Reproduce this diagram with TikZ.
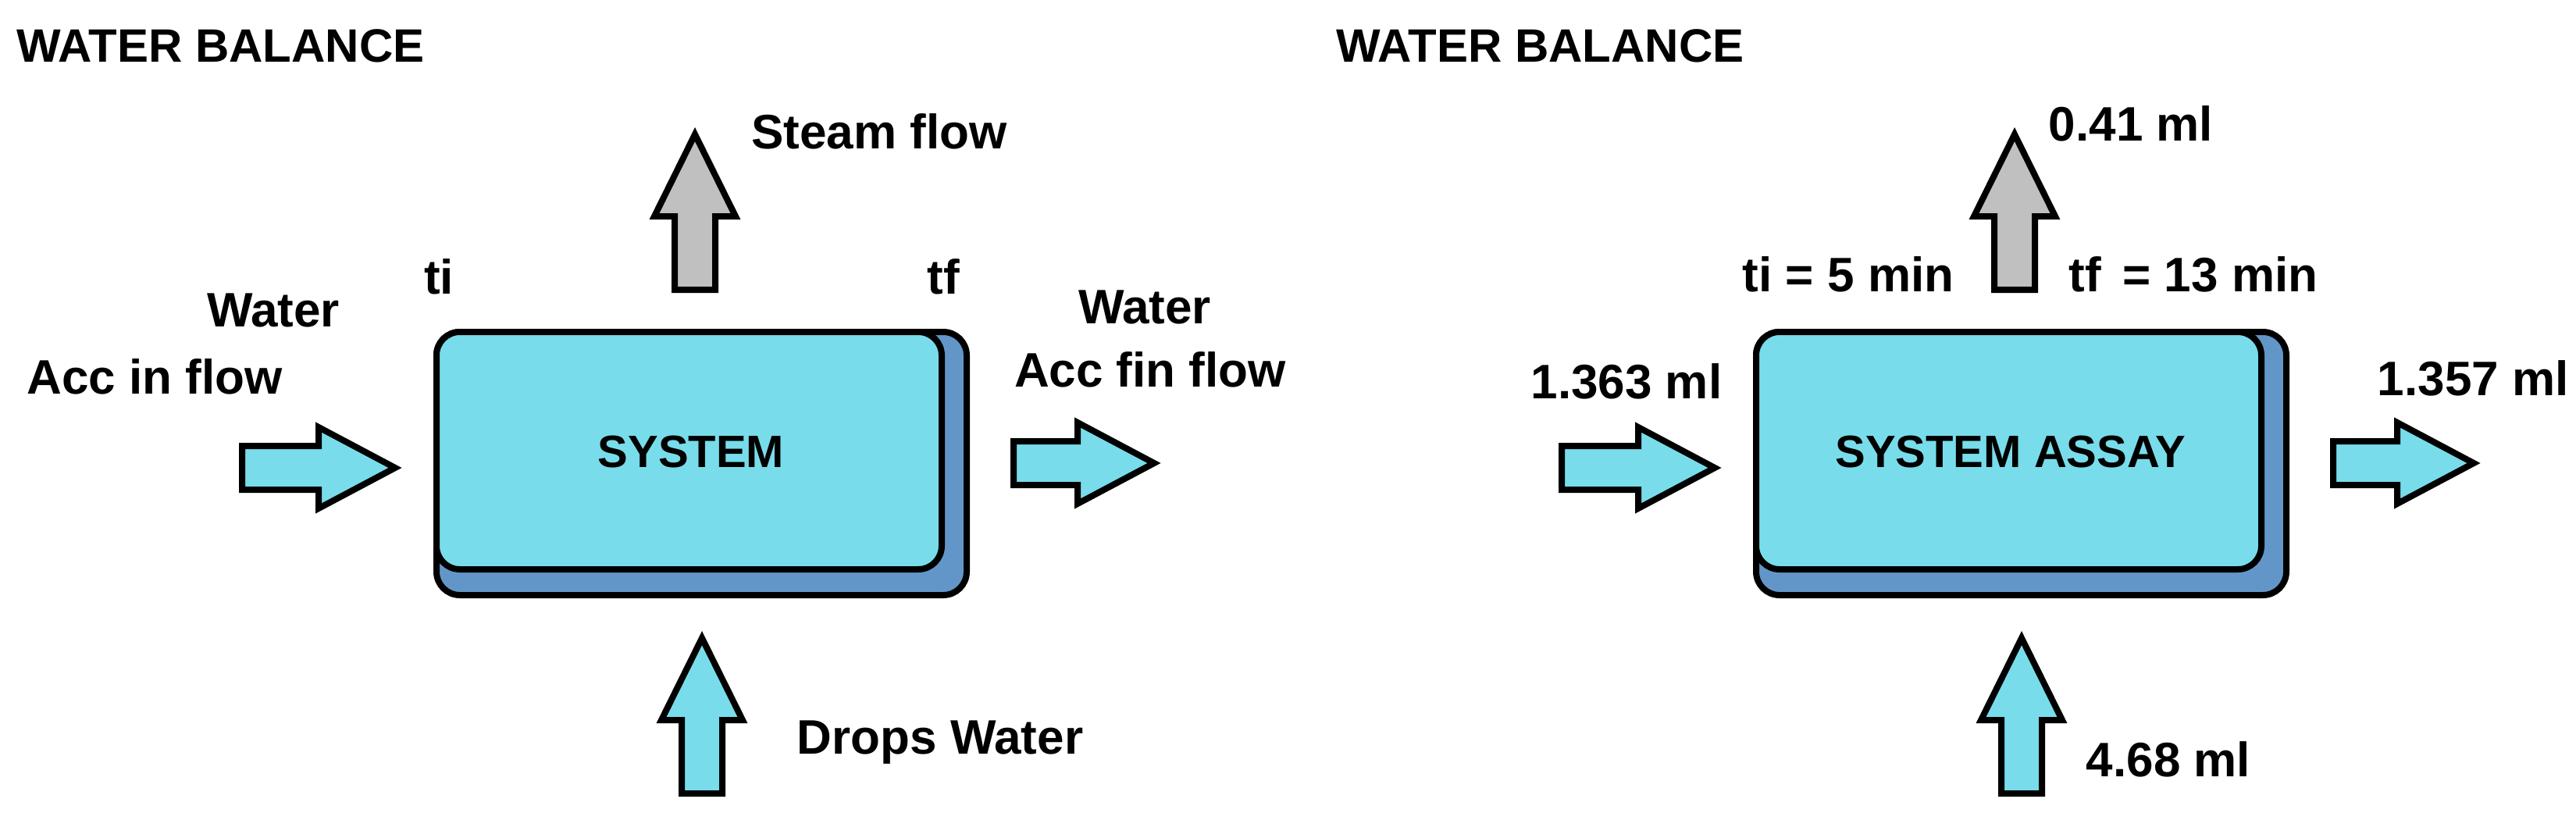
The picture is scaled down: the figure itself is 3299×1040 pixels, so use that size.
\documentclass[tikz,border=0pt]{standalone}
\usepackage{fontspec}
\setmainfont{Liberation Sans}
\definecolor{cyanb}{HTML}{78DCEB}
\definecolor{darkb}{HTML}{6396C8}
\definecolor{grayb}{HTML}{C0C0C0}
\newcommand\rarr[4]{\draw[flow,fill=#4] (#1,#2-28) -- (#1+#3-98,#2-28) -- (#1+#3-98,#2-52) -- (#1+#3,#2) -- (#1+#3-98,#2+52) -- (#1+#3-98,#2+28) -- (#1,#2+28) -- cycle;}
\newcommand\uarr[4]{\draw[flow,fill=#4] (#1-26,#2) -- (#1-26,#2-#3+105) -- (#1-52,#2-#3+105) -- (#1,#2-#3) -- (#1+52,#2-#3+105) -- (#1+26,#2-#3+105) -- (#1+26,#2) -- cycle;}
\tikzset{
  flow/.style={line width=4pt,line join=miter,draw=black},
  lbl/.style={font=\bfseries\fontsize{31}{36}\selectfont,align=center,inner sep=0pt},
  ttl/.style={font=\bfseries\fontsize{30}{34}\selectfont,anchor=west,inner sep=0pt},
  boxtxt/.style={font=\bfseries\fontsize{29}{34}\selectfont,inner sep=0pt}
}
\begin{document}
\begin{tikzpicture}[x=0.5pt,y=-0.5pt]
\useasboundingbox[fill=white] (0,0) rectangle (3299,1040);
\foreach \s/\ttlname in {0/L,1690/R}{
  \begin{scope}[xshift=\s*0.5pt]
  \draw[line width=4pt,fill=darkb,rounded corners=15pt] (559,425) rectangle (1238,762);
  \draw[line width=4pt,fill=cyanb,rounded corners=15pt] (559,425) rectangle (1206,729);
  \uarr{890}{371}{199}{grayb}
  \uarr{899}{1016}{199}{cyanb}
  \rarr{310}{599}{196}{cyanb}
  \rarr{1298}{593}{180}{cyanb}
  \node[ttl] (title\ttlname) at (21,59) {WATER BALANCE};
  \end{scope}
}
\node[boxtxt] (sysL) at (885,579) {SYSTEM};
\node[lbl] (steamL) at (1126,168) {Steam flow};
\node[lbl] (dropsL) at (1204,951) {Drops Water};
\node[lbl] (ti) at (562,354) {ti};
\node[lbl] (tf) at (1208,354) {tf};
\node[lbl] (inL) at (350,397) {Water};
\node[lbl] (inL2) at (198,482) {Acc in flow};
\node[lbl] (outL) at (1466,393) {Water};
\node[lbl] (outL2) at (1473,473) {Acc fin flow};
\node[boxtxt] (sysR) at (2575,579) {SYSTEM ASSAY};
\node[lbl] (steamR) at (2729,158) {0.41 ml};
\node[lbl] (dropsR) at (2777,972) {4.68 ml};
\node[lbl] (tiR) at (2367,351) {ti = 5 min};
\node[lbl] (tfR) at (2809,351) {tf\, = 13 min};
\node[lbl] (inR) at (2083,488) {1.363 ml};
\node[lbl,anchor=east] (outR) at (3290,484) {1.357 ml};
\end{tikzpicture}
\end{document}
